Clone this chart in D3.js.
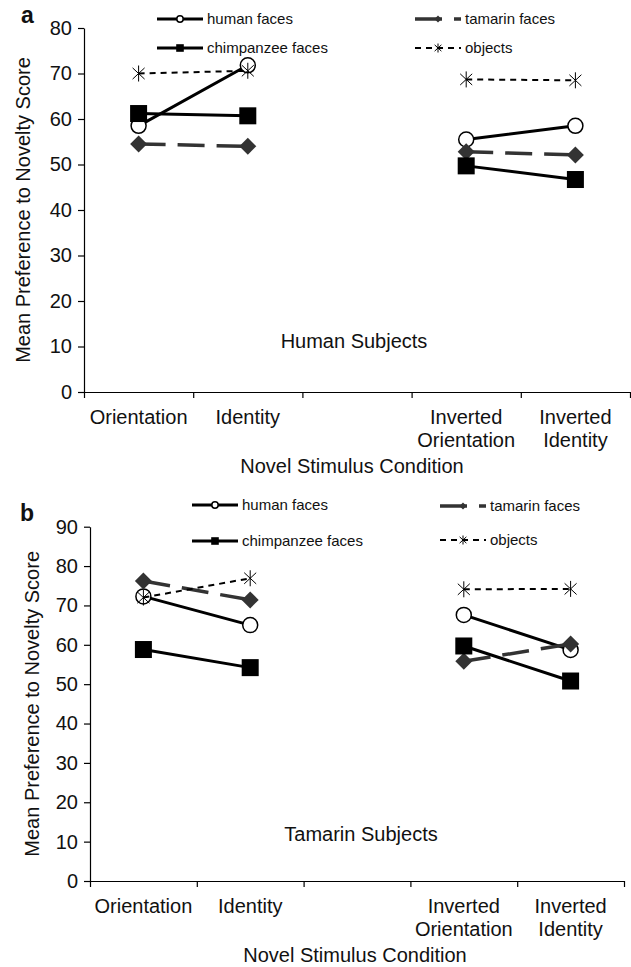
<!DOCTYPE html>
<html lang="en">
<head>
  <meta charset="UTF-8" />
  <title>Mean Preference to Novelty Score</title>
  <script src="https://d3js.org/d3.v7.min.js"></script>
  <style>
    body {
      margin: 0;
      background: white;
      font-family: "Liberation Sans", Arial, sans-serif;
    }
    svg text {
      fill: #111;
    }
  </style>
</head>
<body>

<svg width="631" height="967"></svg>

<script>
  // conditions along the x axis (third slot is left empty in the original)
  const categories = ["Orientation", "Identity", "gap", "Inverted Orientation", "Inverted Identity"];
  const tickLabels = [["Orientation"], ["Identity"], [], ["Inverted", "Orientation"], ["Inverted", "Identity"]];

  // series names for the legend
  const seriesNames = ["human faces", "tamarin faces", "chimpanzee faces", "objects"];

  // panel a - human subjects
  const humanA    = [58.5, 71.8, null, 55.5, 58.5];
  const chimpA    = [61.2, 60.7, null, 49.7, 46.7];
  const tamarinA  = [54.5, 54.0, null, 52.8, 52.1];
  const objectsA  = [70.0, 70.6, null, 68.7, 68.5];

  // panel b - tamarin subjects
  const humanB    = [72.3, 65.0, null, 67.6, 58.7];
  const chimpB    = [58.8, 54.2, null, 59.7, 50.8];
  const tamarinB  = [76.2, 71.4, null, 55.8, 60.2];
  const objectsB  = [72.0, 76.9, null, 74.1, 74.2];

  const yTicksA = [0, 10, 20, 30, 40, 50, 60, 70, 80];
  const yTicksB = [0, 10, 20, 30, 40, 50, 60, 70, 80, 90];

  const svg = d3.select("svg");

  // marker drawing helpers
  function drawMarker(g, type, x, y, s) {
    if (type === "circle") {
      g.append("circle").attr("cx", x).attr("cy", y).attr("r", s)
        .attr("fill", "white").attr("stroke", "#000").attr("stroke-width", 1.5);
    } else if (type === "square") {
      g.append("rect").attr("x", x - s).attr("y", y - s)
        .attr("width", 2 * s).attr("height", 2 * s).attr("fill", "#000");
    } else if (type === "diamond") {
      g.append("path")
        .attr("d", `M${x},${y - s}L${x + s},${y}L${x},${y + s}L${x - s},${y}Z`)
        .attr("fill", "#333");
    } else if (type === "star") {
      const dx = s * 0.75;
      g.append("path")
        .attr("d", `M${x},${y - s}V${y + s}M${x - dx},${y - s * 0.7}L${x + dx},${y + s * 0.7}M${x - dx},${y + s * 0.7}L${x + dx},${y - s * 0.7}`)
        .attr("fill", "none").attr("stroke", "#000").attr("stroke-width", 1);
    }
  }

  const styles = {
    "human faces":      { marker: "circle",  size: 7.5, legSize: 3.2, color: "#000", width: 3,   dash: null },
    "tamarin faces":    { marker: "diamond", size: 8.5, legSize: 3.5, color: "#333", width: 3.5, dash: "27,12" },
    "chimpanzee faces": { marker: "square",  size: 8.5, legSize: 3.8, color: "#000", width: 3,   dash: null },
    "objects":          { marker: "star",    size: 8,   legSize: 4.5, color: "#000", width: 2,   dash: "6,5" }
  };

  function drawPanel(p) {
    const g = svg.append("g");

    const y = d3.scaleLinear().domain([0, p.yMax]).range([p.yBottom, p.yTop]);
    const xBand = d3.scaleBand().domain(categories).range([p.x0, p.x1]).padding(0);
    const xEdge = d3.scaleLinear().domain([0, categories.length]).range([p.x0, p.x1]);
    const cx = c => xBand(c) + xBand.bandwidth() / 2;

    // Y axis
    const yAxis = g.append("g")
      .attr("transform", `translate(${p.x0},0)`)
      .call(d3.axisLeft(y).tickValues(p.yTicks).tickSize(6).tickPadding(6).tickSizeOuter(0));
    yAxis.selectAll("text").style("font-size", "20px").style("font-family", "Liberation Sans, Arial, sans-serif").attr("fill", "#111");
    yAxis.selectAll("line, path").attr("stroke", "#000").attr("stroke-width", 1.2);

    // X axis (ticks at band edges)
    const xAxis = g.append("g")
      .attr("transform", `translate(0,${p.yBottom})`)
      .call(d3.axisBottom(xEdge).tickValues(d3.range(categories.length + 1)).tickFormat("").tickSize(6).tickSizeOuter(0));
    xAxis.selectAll("line, path").attr("stroke", "#000").attr("stroke-width", 1.2);

    // X tick labels centered in each band
    categories.forEach((c, i) => {
      const lines = tickLabels[i];
      const t = g.append("text")
        .attr("text-anchor", "middle")
        .style("font-size", "20px");
      lines.forEach((ln, j) => {
        t.append("tspan").attr("x", cx(c)).attr("y", p.yBottom + 32 + j * 23).text(ln);
      });
    });

    // axis titles
    g.append("text")
      .attr("transform", `translate(${p.yTitleX},${(p.yTop + p.yBottom) / 2}) rotate(-90)`)
      .attr("text-anchor", "middle")
      .style("font-size", "20px")
      .text("Mean Preference to Novelty Score");

    g.append("text")
      .attr("x", p.xTitleX).attr("y", p.yBottom + 81)
      .attr("text-anchor", "middle")
      .style("font-size", "20px")
      .text("Novel Stimulus Condition");

    // panel letter
    g.append("text")
      .attr("x", p.letterX).attr("y", p.letterY)
      .style("font-size", "23px").style("font-weight", "bold")
      .text(p.letter);

    // subject annotation
    g.append("text")
      .attr("x", p.noteX).attr("y", y(p.noteVal))
      .attr("text-anchor", "middle")
      .style("font-size", "20px")
      .text(p.note);

    // series lines and markers
    const line = d3.line()
      .defined(d => d.v !== null)
      .x(d => cx(d.c))
      .y(d => y(d.v));

    p.series.forEach(s => {
      const st = styles[s.name];
      const pts = categories.map((c, i) => ({ c: c, v: s.values[i] }));
      g.append("path")
        .datum(pts)
        .attr("d", line)
        .attr("fill", "none")
        .attr("stroke", st.color)
        .attr("stroke-width", st.width)
        .attr("stroke-dasharray", st.dash);
      pts.filter(d => d.v !== null).forEach(d => {
        drawMarker(g, st.marker, cx(d.c), y(d.v), st.size);
      });
    });

    // legend
    p.legend.forEach(l => {
      const st = styles[l.name];
      g.append("line")
        .attr("x1", l.x).attr("x2", l.x + 46)
        .attr("y1", l.y).attr("y2", l.y)
        .attr("stroke", st.color)
        .attr("stroke-width", st.width)
        .attr("stroke-dasharray", st.dash);
      drawMarker(g, st.marker, l.x + 23, l.y, st.legSize);
      g.append("text")
        .attr("x", l.x + 50).attr("y", l.y + 5)
        .style("font-size", "15px")
        .text(l.name);
    });
  }

  drawPanel({
    x0: 84, x1: 630, yTop: 28, yBottom: 392, yMax: 80, yTicks: yTicksA,
    yTitleX: 30, xTitleX: 352, letter: "a", letterX: 21, letterY: 23,
    note: "Human Subjects", noteX: 354, noteVal: 9.7,
    series: [
      { name: "human faces", values: humanA },
      { name: "tamarin faces", values: tamarinA },
      { name: "chimpanzee faces", values: chimpA },
      { name: "objects", values: objectsA }
    ],
    legend: [
      { name: seriesNames[0], x: 157, y: 19 },
      { name: seriesNames[1], x: 415, y: 19 },
      { name: seriesNames[2], x: 157, y: 48 },
      { name: seriesNames[3], x: 415, y: 48 }
    ]
  });

  drawPanel({
    x0: 90, x1: 624, yTop: 526.7, yBottom: 881, yMax: 90, yTicks: yTicksB,
    yTitleX: 39, xTitleX: 355, letter: "b", letterX: 20, letterY: 521,
    note: "Tamarin Subjects", noteX: 361, noteVal: 10.2,
    series: [
      { name: "human faces", values: humanB },
      { name: "tamarin faces", values: tamarinB },
      { name: "chimpanzee faces", values: chimpB },
      { name: "objects", values: objectsB }
    ],
    legend: [
      { name: seriesNames[0], x: 192, y: 505 },
      { name: seriesNames[1], x: 440, y: 506 },
      { name: seriesNames[2], x: 192, y: 541 },
      { name: seriesNames[3], x: 440, y: 540 }
    ]
  });
</script>

</body>
</html>
